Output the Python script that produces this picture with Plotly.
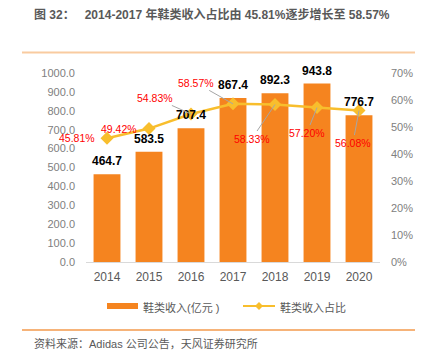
import plotly.graph_objects as go

years = ["2014", "2015", "2016", "2017", "2018", "2019", "2020"]
revenue = [464.7, 583.5, 707.4, 867.4, 892.3, 943.8, 776.7]
share = [45.81, 49.42, 54.83, 58.57, 58.33, 57.20, 56.08]
share_labels = ["45.81%", "49.42%", "54.83%", "58.57%", "58.33%", "57.20%", "56.08%"]
rev_labels = ["464.7", "583.5", "707.4", "867.4", "892.3", "943.8", "776.7"]
y_ticks = [0, 100, 200, 300, 400, 500, 600, 700, 800, 900, 1000]
y2_ticks = [0, 10, 20, 30, 40, 50, 60, 70]

FONT = "Liberation Sans, Arial, Noto Sans CJK SC, sans-serif"
ORANGE = "#F5841F"
GOLD = "#F8BE2D"
GRAY = "#595959"

xpos = list(range(len(years)))

# page body has an 8px margin: the figure is drawn at (8, 8)
OFF = 8
W, H = 423 - OFF, 355 - OFF
L, T = 86 - OFF, 73 - OFF
pw, ph = 294, 189
R, B = W - L - pw, H - T - ph


def px(xp):
    return (xp - OFF - L) / pw


def py(yp):
    return (T + ph - (yp - OFF)) / ph


fig = go.Figure()
fig.add_trace(go.Bar(
    x=xpos, y=revenue, name="鞋类收入(亿元 )",
    marker=dict(color=ORANGE, line=dict(width=0)),
    width=0.64, showlegend=False,
))
fig.add_trace(go.Scatter(
    x=xpos, y=share, name="鞋类收入占比", yaxis="y2",
    mode="lines+markers",
    line=dict(color=GOLD, width=2.5),
    marker=dict(symbol="diamond", size=10, color=GOLD),
    cliponaxis=False, showlegend=False,
))

# value labels above the bars
for x, y, lab in zip(xpos, revenue, rev_labels):
    fig.add_annotation(
        x=x, y=y, xref="x", yref="y", text=f"<b>{lab}</b>",
        showarrow=False, yanchor="bottom", yshift=4,
        font=dict(family=FONT, size=12, color="#000000"),
    )

# pixel offsets for the percentage labels
offsets = [(-30, 0, False), (-30, 0, False), (-36, -16, True), (-37, -21, True),
           (-23, 34, True), (-10, 25, True), (-6, 32, True)]
for x, y, lab, (ax, ay, arrow) in zip(xpos, share, share_labels, offsets):
    fig.add_annotation(
        x=x, y=y, xref="x", yref="y2", text=lab,
        showarrow=True, ax=ax, ay=ay,
        arrowhead=0, arrowwidth=1,
        arrowcolor="#A6A6A6" if arrow else "rgba(0,0,0,0)",
        font=dict(family=FONT, size=10.5, color="#FF0000"),
        standoff=0,
    )

fig.add_annotation(
    x=px(32), y=py(14), xref="paper", yref="paper",
    text="<b>图 32：&nbsp;&nbsp; 2014-2017 年鞋类收入占比由 45.81%逐步增长至 58.57%</b>",
    showarrow=False, xanchor="left", yanchor="middle",
    font=dict(family=FONT, size=12, color=GRAY),
)
fig.add_annotation(
    x=px(32), y=py(343), xref="paper", yref="paper",
    text="资料来源：Adidas 公司公告，天风证券研究所",
    showarrow=False, xanchor="left", yanchor="middle",
    font=dict(family=FONT, size=11, color=GRAY),
)

# custom legend
fig.add_annotation(
    x=px(141), y=py(307), xref="paper", yref="paper", text="鞋类收入(亿元 )",
    showarrow=False, xanchor="left", yanchor="middle",
    font=dict(family=FONT, size=11, color=GRAY),
)
fig.add_annotation(
    x=px(278), y=py(307), xref="paper", yref="paper", text="鞋类收入占比",
    showarrow=False, xanchor="left", yanchor="middle",
    font=dict(family=FONT, size=11, color=GRAY),
)

dx, dy = px(263) - px(259), py(302) - py(306)
cx, cy = px(259), py(306)
shapes = [
    dict(type="line", xref="paper", yref="paper", x0=px(22), x1=px(416), y0=py(52.5), y1=py(52.5),
         line=dict(color="#F9CBA0", width=2)),
    dict(type="line", xref="paper", yref="paper", x0=px(22), x1=px(416), y0=py(330), y1=py(330),
         line=dict(color="#F39A4C", width=1.5)),
    dict(type="rect", xref="paper", yref="paper", x0=px(107), x1=px(138), y0=py(303), y1=py(309),
         fillcolor=ORANGE, line=dict(width=0)),
    dict(type="line", xref="paper", yref="paper", x0=px(243), x1=px(275), y0=py(306), y1=py(306),
         line=dict(color=GOLD, width=2)),
    dict(type="path", xref="paper", yref="paper",
         path=f"M {cx - dx} {cy} L {cx} {cy + dy} L {cx + dx} {cy} L {cx} {cy - dy} Z",
         fillcolor=GOLD, line=dict(width=0)),
]

fig.update_layout(
    width=W, height=H,
    margin=dict(l=L, r=R, t=T, b=B, autoexpand=False),
    paper_bgcolor="white", plot_bgcolor="white",
    font=dict(family=FONT, color=GRAY),
    showlegend=False,
    xaxis=dict(range=[-0.5, len(years) - 0.5], tickvals=xpos, ticktext=years,
               showgrid=False, zeroline=False, showline=True, linecolor="#D9D9D9", linewidth=1,
               ticks="", tickfont=dict(family=FONT, size=12, color=GRAY), ticklabelstandoff=4),
    yaxis=dict(range=[0, 1000], tickvals=y_ticks, ticktext=[f"{v:.1f}" for v in y_ticks],
               showgrid=False, zeroline=False, showline=False,
               tickfont=dict(family=FONT, size=11, color="#808080"), ticklabelstandoff=10),
    yaxis2=dict(range=[0, 70], tickvals=y2_ticks, ticktext=[f"{v}%" for v in y2_ticks],
                overlaying="y", side="right", showgrid=False, zeroline=False, showline=False,
                tickfont=dict(family=FONT, size=11, color="#808080"), ticklabelstandoff=10),
    shapes=shapes,
)

fig.write_html("out.html")
